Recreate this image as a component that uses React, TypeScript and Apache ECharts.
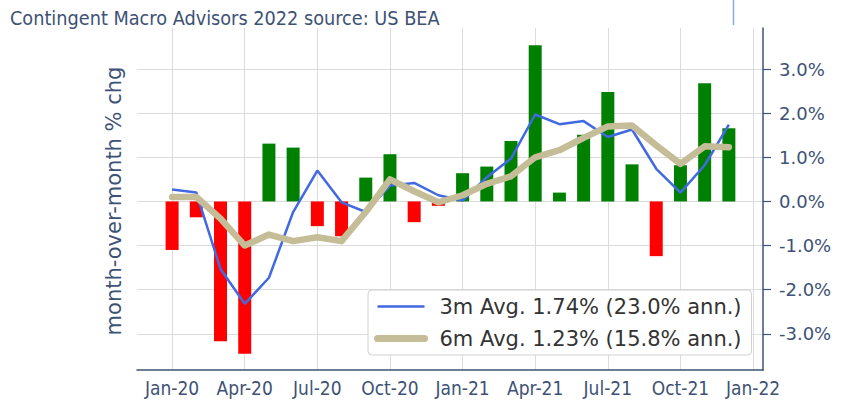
import React, { useEffect, useRef } from 'react';
import * as echarts from 'echarts';

const months = [
  'Jan-20', 'Feb-20', 'Mar-20', 'Apr-20', 'May-20', 'Jun-20', 'Jul-20', 'Aug-20', 'Sep-20', 'Oct-20', 'Nov-20', 'Dec-20',
  'Jan-21', 'Feb-21', 'Mar-21', 'Apr-21', 'May-21', 'Jun-21', 'Jul-21', 'Aug-21', 'Sep-21', 'Oct-21', 'Nov-21', 'Dec-21',
];
const monthlyChg = [-1.10, -0.36, -3.17, -3.45, 1.31, 1.22, -0.56, -0.79, 0.54, 1.07, -0.47, -0.10,
  0.64, 0.79, 1.37, 3.54, 0.20, 1.51, 2.48, 0.84, -1.24, 0.82, 2.68, 1.66];
const avg3m = [0.27, 0.20, -1.53, -2.32, -1.73, -0.24, 0.70, -0.02, -0.24, 0.36, 0.42, 0.14,
  0.02, 0.55, 0.97, 1.97, 1.75, 1.82, 1.46, 1.63, 0.74, 0.20, 0.82, 1.74];
const avg6m = [0.10, 0.10, -0.39, -1.00, -0.75, -0.90, -0.81, -0.90, -0.24, 0.50, 0.23, -0.02,
  0.14, 0.40, 0.57, 1.00, 1.16, 1.44, 1.70, 1.72, 1.27, 0.85, 1.25, 1.23];
const xTickLabels = ['Jan-20', 'Apr-20', 'Jul-20', 'Oct-20', 'Jan-21', 'Apr-21', 'Jul-21', 'Oct-21', 'Jan-22'];
const xTickIndex = [0, 3, 6, 9, 12, 15, 18, 21, 24];
const yTicks = [-3, -2, -1, 0, 1, 2, 3];
const legend3m = '3m Avg. 1.74% (23.0% ann.)';
const legend6m = '6m Avg. 1.23% (15.8% ann.)';
const titleText = 'Contingent Macro Advisors 2022 source: US BEA';
const yName = 'month-over-month % chg';

const AXIS = '#3d5275';
const GRID = '#dcdcdc';
const BLUE = '#4169e1';
const TAN = '#c5bd98';

export default function App() {
  const ref = useRef<HTMLDivElement>(null);
  useEffect(() => {
    if (!ref.current) return;
    const chart = echarts.init(ref.current, undefined, { renderer: 'svg' });
    const barData = monthlyChg.map((v, i) => ({
      value: [i, v],
      itemStyle: { color: v >= 0 ? '#008000' : '#ff0000' },
    }));
    chart.setOption({
      animation: false,
      backgroundColor: '#ffffff',
      grid: { left: 137, right: 80, top: 28, bottom: 41, containLabel: false },
      xAxis: {
        type: 'value',
        min: -1.45,
        max: 24.41,
        axisLine: { show: true, onZero: false, lineStyle: { color: AXIS, width: 1.5 } },
        axisTick: { show: false, customValues: xTickIndex },
        splitLine: { show: true, lineStyle: { color: GRID, width: 1 } },
        axisLabel: {
          customValues: xTickIndex,
          formatter: (v: number) => xTickLabels[xTickIndex.indexOf(Math.round(v))] ?? '',
          color: AXIS,
          fontSize: 19,
          fontFamily: 'DejaVu Sans Condensed',
          margin: 8,
        },
      },
      yAxis: {
        type: 'value',
        position: 'right',
        min: -3.82,
        max: 3.93,
        axisLine: { show: true, onZero: false, lineStyle: { color: AXIS, width: 1.5 } },
        axisTick: { show: true, customValues: yTicks, length: 8, lineStyle: { color: AXIS, width: 1.2 } },
        splitLine: { show: true, lineStyle: { color: GRID, width: 1 } },
        axisLabel: {
          customValues: yTicks,
          formatter: (v: number) => v.toFixed(1) + '%',
          color: AXIS,
          fontSize: 18,
          fontFamily: 'DejaVu Sans',
          margin: 16,
        },
      },
      legend: {
        orient: 'vertical',
        left: 368,
        top: 290,
        padding: [6, 10, 6, 6],
        itemWidth: 47,
        itemHeight: 14,
        itemGap: 11,
        backgroundColor: '#ffffff',
        borderColor: '#d0d0d0',
        borderWidth: 1,
        borderRadius: 4,
        itemStyle: { opacity: 0 },
        data: [
          { name: legend3m, lineStyle: { color: BLUE, width: 2.5 } },
          { name: legend6m, lineStyle: { color: TAN, width: 7, cap: 'round' } },
        ],
        textStyle: { fontSize: 21, color: '#333333', fontFamily: 'DejaVu Sans', padding: [0, 0, 0, 10] },
      },
      series: [
        {
          type: 'bar',
          name: 'monthly',
          data: barData,
          barWidth: 13,
          z: 2,
        },
        {
          type: 'line',
          name: legend3m,
          data: avg3m.map((v, i) => [i, v]),
          symbol: 'none',
          lineStyle: { color: BLUE, width: 2.5 },
          itemStyle: { color: BLUE },
          z: 3,
        },
        {
          type: 'line',
          name: legend6m,
          data: avg6m.map((v, i) => [i, v]),
          symbol: 'none',
          lineStyle: { color: TAN, width: 6.5, cap: 'round', join: 'round' },
          itemStyle: { color: TAN },
          z: 4,
        },
      ],
      graphic: [
        {
          type: 'text',
          left: 10,
          top: 8,
          style: {
            text: titleText,
            fontSize: 19.7,
            fontFamily: 'DejaVu Sans Condensed',
            fill: AXIS,
          },
        },
        {
          type: 'text',
          x: 114,
          y: 201,
          rotation: Math.PI / 2,
          style: {
            text: yName,
            fontSize: 21,
            fontFamily: 'DejaVu Sans',
            fill: AXIS,
            align: 'center',
            verticalAlign: 'middle',
          },
        },
        {
          type: 'line',
          shape: { x1: 733.5, y1: 0, x2: 733.5, y2: 25 },
          style: { stroke: '#7fb0de', lineWidth: 1.5 },
        },
      ],
    });
    return () => chart.dispose();
  }, []);
  return <div ref={ref} style={{ position: 'absolute', left: 0, top: 0, width: 843, height: 411 }} />;
}
